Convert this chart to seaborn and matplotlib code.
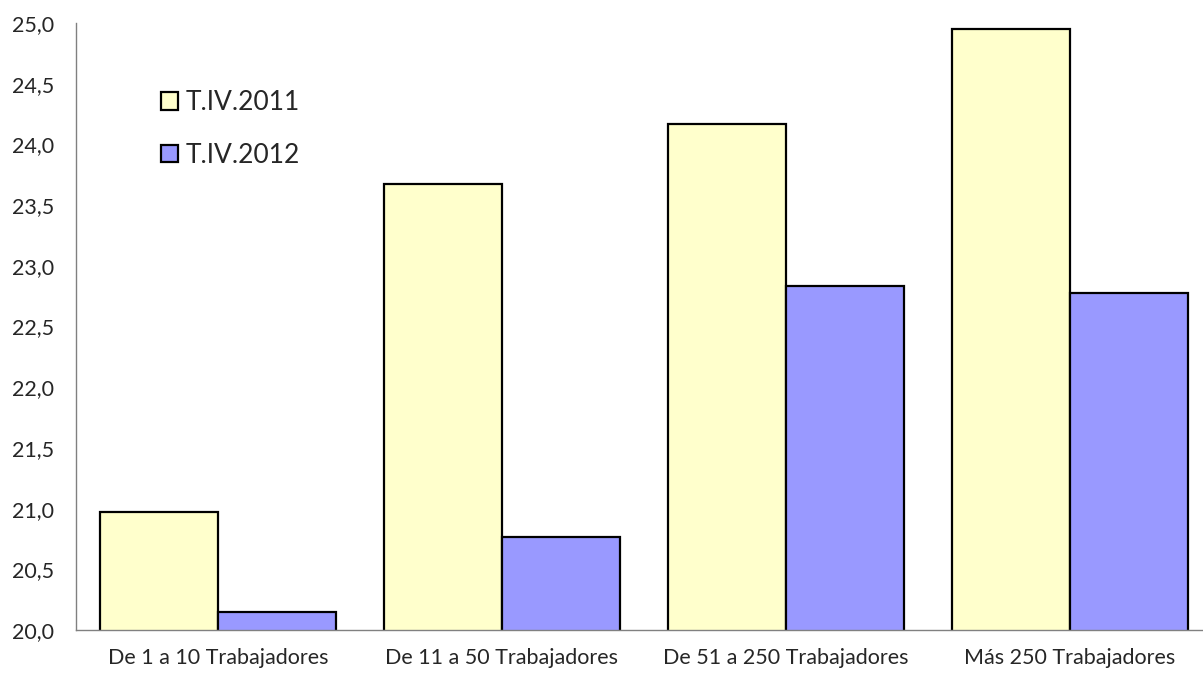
import matplotlib
matplotlib.use("Agg")
import matplotlib.pyplot as plt
from matplotlib.patches import Patch
import seaborn as sns
import pandas as pd

categories = ["De 1 a 10 Trabajadores", "De 11 a 50 Trabajadores",
              "De 51 a 250 Trabajadores", "Más 250 Trabajadores"]
series_names = ["T.IV.2011", "T.IV.2012"]
values_2011 = [20.97, 23.67, 24.17, 24.95]
values_2012 = [20.15, 20.77, 22.83, 22.78]
y_ticks = [20.0, 20.5, 21.0, 21.5, 22.0, 22.5, 23.0, 23.5, 24.0, 24.5, 25.0]

colors = ["#FFFFCC", "#9999FF"]

df = pd.DataFrame({
    "cat": categories * 2,
    "serie": [series_names[0]] * 4 + [series_names[1]] * 4,
    "val": values_2011 + values_2012,
})

sns.set_style("white")
plt.rcParams["font.family"] = ["Lato", "DejaVu Sans"]

fig = plt.figure(figsize=(12.03, 6.73), dpi=100)
ax = fig.add_axes([76 / 1203, 43 / 673, 1136 / 1203, 607 / 673])

sns.barplot(data=df, x="cat", y="val", hue="serie", palette=colors,
            saturation=1, width=0.83, gap=0, edgecolor="black", linewidth=1.6,
            legend=False, ax=ax)

ax.set_ylim(20, 25)
ax.set_xlim(-0.5, 3.5)
ax.set_yticks(y_ticks)
ax.set_yticklabels([f"{v:.1f}".replace(".", ",") for v in y_ticks], fontsize=15.5)

# category boundaries as tick marks, labels centered
ax.set_xticks([-0.5, 0.5, 1.5, 2.5])
ax.set_xticklabels([])
ax.set_xticks(range(len(categories)), minor=True)
ax.set_xticklabels(categories, minor=True, fontsize=15.5)
ax.tick_params(axis="x", which="major", direction="out", length=6, width=1, color="#808080")
ax.tick_params(axis="x", which="minor", length=0, pad=13)
ax.tick_params(axis="y", direction="out", length=6, width=1, color="#808080", pad=10)
ax.set_xlabel("")
ax.set_ylabel("")

for side in ["top", "right"]:
    ax.spines[side].set_visible(False)
for side in ["left", "bottom"]:
    ax.spines[side].set_color("#808080")
    ax.spines[side].set_linewidth(1)

handles = [Patch(facecolor=c, edgecolor="black", linewidth=1.6) for c in colors]
fig.legend(handles, series_names, loc="upper left",
           bbox_to_anchor=(161 / 1203, 1 - 90 / 673), frameon=False,
           fontsize=19, handlelength=0.65, handleheight=0.65,
           handletextpad=0.3, labelspacing=1.05, borderpad=0, borderaxespad=0)

fig.savefig("out.png", dpi=100)
